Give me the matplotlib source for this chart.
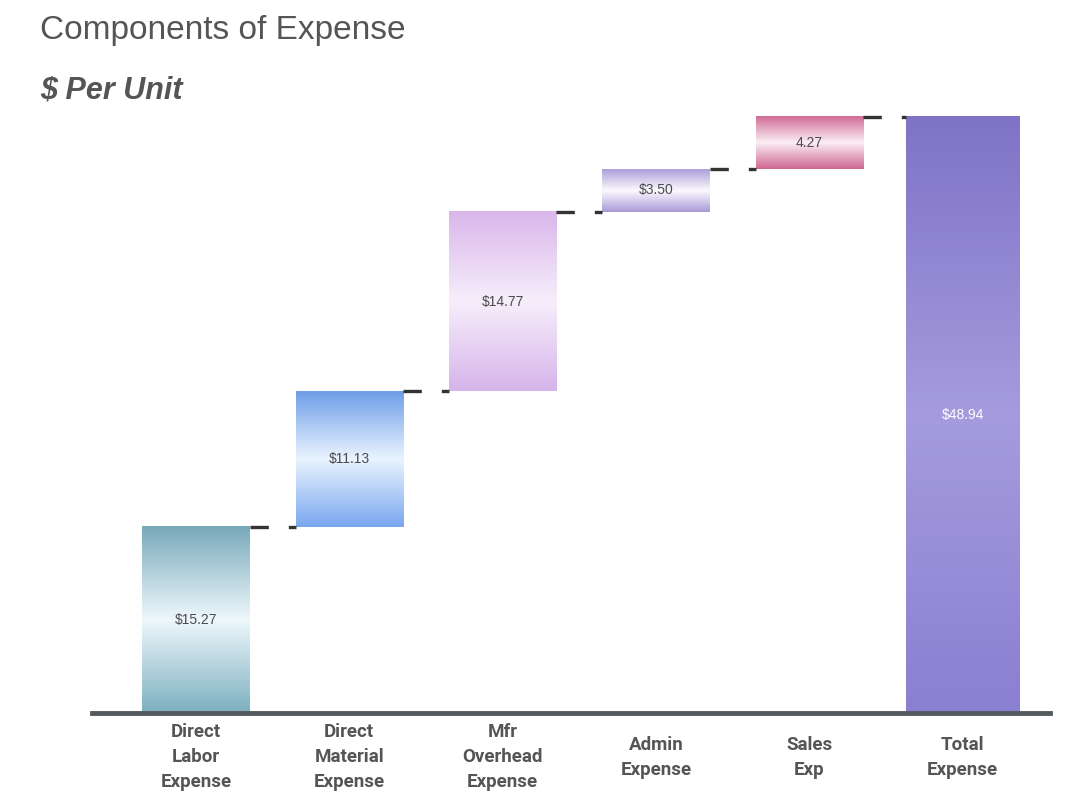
import matplotlib
matplotlib.use("Agg")
import matplotlib.pyplot as plt
import numpy as np
from matplotlib.colors import LinearSegmentedColormap

# Expense components, $ per unit
categories = ["Direct\nLabor\nExpense", "Direct\nMaterial\nExpense", "Mfr\nOverhead\nExpense",
              "Admin\nExpense", "Sales\nExp", "Total\nExpense"]
components = [15.27, 11.13, 14.77, 3.50, 4.27]
value_labels = ["$15.27", "$11.13", "$14.77", "$3.50", "4.27", "$48.94"]
total = round(sum(components), 2)

# gradient stops (top, middle, bottom) per bar
bar_gradients = [
    ["#78a9ba", "#eef8fc", "#7cafc0"],
    ["#6e9ee8", "#eaf4ff", "#78a6ee"],
    ["#dab6ea", "#f6eefb", "#d6b4ea"],
    ["#ad9ed9", "#fbf9ff", "#a899d6"],
    ["#d06c96", "#fbeef4", "#cf6690"],
    ["#7f73c6", "#a59bde", "#8a7fd1"],
]
label_colors = ["#4a4a4a"] * 5 + ["#ffffff"]

values = components + [total]
bottoms = list(np.concatenate([[0], np.cumsum(components)[:-1]])) + [0]

fig = plt.figure(figsize=(10.65, 7.92), dpi=100)
fig.patch.set_facecolor("white")
ax = fig.add_axes([0.086, 0.0997, 0.9, 0.769])

x = np.arange(len(categories))
widths = [0.70] * 5 + [0.74]
bars = ax.bar(x, values, bottom=bottoms, width=widths, color="none", edgecolor="none", zorder=2)

for i, patch in enumerate(bars):
    bx, by = patch.get_x(), patch.get_y()
    bw, bh = patch.get_width(), patch.get_height()
    cmap = LinearSegmentedColormap.from_list(f"g{i}", bar_gradients[i])
    grad = np.linspace(0, 1, 256).reshape(-1, 1)
    ax.imshow(grad, cmap=cmap, aspect="auto", origin="upper",
              extent=[bx, bx + bw, by, by + bh], zorder=2, interpolation="bicubic")
    ax.text(bx + bw / 2, by + bh / 2, value_labels[i].replace("$", r"\$"),
            ha="center", va="center", fontsize=10, color=label_colors[i], zorder=3,
            family=["Liberation Sans", "DejaVu Sans"])

# dashed connectors between consecutive bar tops
levels = np.cumsum(components)
for i, lvl in enumerate(levels):
    x0 = bars[i].get_x() + bars[i].get_width()
    x1 = bars[i + 1].get_x()
    ax.plot([x0, x1], [lvl, lvl], color="#333333", lw=2.4,
            linestyle=(0.5, (6, 6)), solid_capstyle="butt", zorder=3)

ax.set_xlim(-0.68, 5.57)
ax.set_ylim(0, 50)
ax.set_xticks(x)
ax.set_xticklabels(categories, fontsize=13.5, fontweight="bold", color="#555555",
                   family=["Roboto", "DejaVu Sans"], linespacing=1.5)
for lbl in ax.get_xticklabels():
    lbl.set_verticalalignment("center")
ax.tick_params(axis="x", length=0, pad=32)
ax.set_yticks([])
for side in ["top", "right", "left"]:
    ax.spines[side].set_visible(False)
ax.spines["bottom"].set_color("#555a5c")
ax.spines["bottom"].set_linewidth(3.5)
ax.set_facecolor("white")

fig.text(0.038, 0.962, "Components of Expense", fontsize=24, color="#555555",
         ha="left", va="center", family=["Liberation Sans", "DejaVu Sans"])
fig.text(0.038, 0.886, r"\$ Per Unit", fontsize=22, color="#555555",
         ha="left", va="center", fontweight="bold", fontstyle="italic",
         family=["Liberation Sans", "DejaVu Sans"])

fig.savefig("out.png", dpi=100, facecolor="white")
